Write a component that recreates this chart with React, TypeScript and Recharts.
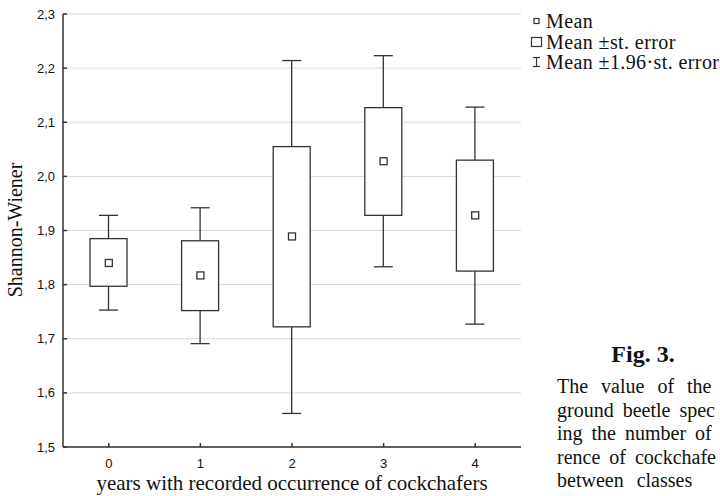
import React from "react";
import { Bar, CartesianGrid, ComposedChart, Line, XAxis, YAxis } from "recharts";

// years with recorded occurrence
const years = ["0", "1", "2", "3", "4"];
const means = [1.84, 1.817, 1.889, 2.028, 1.928];
const seLow = [1.797, 1.752, 1.722, 1.928, 1.825];
const seHigh = [1.885, 1.881, 2.055, 2.127, 2.03];
const ciLow = [1.753, 1.691, 1.562, 1.833, 1.727];
const ciHigh = [1.928, 1.942, 2.214, 2.223, 2.128];
const yTicks = [1.5, 1.6, 1.7, 1.8, 1.9, 2.0, 2.1, 2.2, 2.3];

const data = years.map((y, i) => ({
  year: y,
  mean: means[i],
  se: [seLow[i], seHigh[i]],
  ci: [ciLow[i], ciHigh[i]],
}));

const INK = "#333";
const SERIF = "'Liberation Serif', 'Times New Roman', serif";
const SANS = "'Liberation Sans', Arial, sans-serif";

function Whisker(props: any) {
  const { x, y, width, height } = props;
  const cx = x + width / 2;
  const top = Math.min(y, y + height);
  const bot = Math.max(y, y + height);
  return (
    <g stroke={INK} strokeWidth={1.3}>
      <line x1={cx} y1={top} x2={cx} y2={bot} />
      <line x1={x} y1={top} x2={x + width} y2={top} />
      <line x1={x} y1={bot} x2={x + width} y2={bot} />
    </g>
  );
}

function Box(props: any) {
  const { x, y, width, height } = props;
  const top = Math.min(y, y + height);
  return (
    <rect x={x} y={top} width={width} height={Math.abs(height)} fill="#fff" stroke={INK} strokeWidth={1.3} />
  );
}

function MeanDot(props: any) {
  const { cx, cy } = props;
  if (cx == null || cy == null) return null;
  return <rect x={cx - 3.5} y={cy - 3.5} width={7} height={7} fill="#fff" stroke={INK} strokeWidth={1.3} />;
}

const legendRow = (top: number, icon: React.ReactNode, text: string) => (
  <div style={{ position: "absolute", left: 529, top, height: 20, display: "flex", alignItems: "center", whiteSpace: "nowrap" }}>
    <svg width={15} height={14} style={{ marginRight: 2 }}>{icon}</svg>
    <span style={{ fontFamily: SERIF, fontSize: 20, letterSpacing: 0.4, color: "#111" }}>{text}</span>
  </div>
);

// caption is cut by the right edge in the original figure
const captionLines = ["The value of the", "ground beetle spec", "ing the number of", "rence of cockchafe", "between classes"];
const captionSpacing = [8, 4, 4, 4, 8];

export default function App() {
  return (
    <div style={{ position: "absolute", left: 0, top: 0, width: 720, height: 496, overflow: "hidden", background: "#fff" }}>
      <ComposedChart width={720} height={496} data={data} margin={{ top: 14, right: 199, bottom: 19, left: 23 }}>
        <CartesianGrid vertical={false} stroke="#d9d9d9" xAxisId="x" yAxisId="l" />
        <XAxis
          xAxisId="x"
          dataKey="year"
          height={30}
          tickSize={-4}
          tickMargin={16}
          stroke={INK}
          strokeWidth={1.5}
          tick={{ fill: "#111", fontSize: 13, fontFamily: SANS }}
        />
        <XAxis xAxisId="t" dataKey="year" orientation="top" height={0} tickSize={-4} tick={false} stroke={INK} strokeWidth={1.5} />
        <YAxis
          yAxisId="l"
          domain={[1.5, 2.3]}
          ticks={yTicks}
          width={40}
          tickSize={-4}
          tickMargin={12}
          stroke={INK}
          strokeWidth={1.5}
          tickFormatter={(v: number) => v.toFixed(1).replace(".", ",")}
          tick={{ fill: "#111", fontSize: 13, fontFamily: SANS }}
        />
        <YAxis yAxisId="r" orientation="right" domain={[1.5, 2.3]} ticks={yTicks} width={0} tickSize={-4} tick={false} stroke={INK} strokeWidth={1.5} />
        <Bar xAxisId="x" yAxisId="l" dataKey="ci" barSize={19} shape={<Whisker />} isAnimationActive={false} />
        <Bar xAxisId="t" yAxisId="r" dataKey="se" barSize={37} shape={<Box />} isAnimationActive={false} />
        <Line xAxisId="x" yAxisId="l" dataKey="mean" stroke="none" dot={<MeanDot />} activeDot={false} isAnimationActive={false} />
      </ComposedChart>

      <div
        style={{
          position: "absolute", left: 15, top: 230, transform: "translate(-50%, -50%) rotate(-90deg)",
          fontFamily: SERIF, fontSize: 20, color: "#111", whiteSpace: "nowrap",
        }}
      >
        Shannon-Wiener
      </div>
      <div
        style={{
          position: "absolute", left: 292, top: 471, transform: "translateX(-50%)",
          fontFamily: SERIF, fontSize: 21, color: "#111", whiteSpace: "nowrap", lineHeight: "24px",
        }}
      >
        years with recorded occurrence of cockchafers
      </div>

      {legendRow(11, <rect x={5} y={4.5} width={5} height={5} fill="#fff" stroke={INK} strokeWidth={1.2} />, "Mean")}
      {legendRow(32, <rect x={2.5} y={2.5} width={10} height={9} fill="#fff" stroke={INK} strokeWidth={1.2} />, "Mean ±st. error")}
      {legendRow(52, (
        <g stroke={INK} strokeWidth={1.2}>
          <line x1={4} y1={2.5} x2={11} y2={2.5} />
          <line x1={7.5} y1={2.5} x2={7.5} y2={11.5} />
          <line x1={4} y1={11.5} x2={11} y2={11.5} />
        </g>
      ), "Mean ±1.96·st. error")}

      <div
        style={{
          position: "absolute", left: 643, top: 340, transform: "translateX(-50%)",
          fontFamily: SERIF, fontSize: 24, fontWeight: "bold", color: "#111", whiteSpace: "nowrap", lineHeight: "28px",
        }}
      >
        Fig. 3.
      </div>
      <div style={{ position: "absolute", left: 557, top: 375, fontFamily: SERIF, fontSize: 20, lineHeight: "23.5px", color: "#111" }}>
        {captionLines.map((l, i) => (
          <div key={l} style={{ whiteSpace: "nowrap", wordSpacing: captionSpacing[i] }}>{l}</div>
        ))}
      </div>
    </div>
  );
}
